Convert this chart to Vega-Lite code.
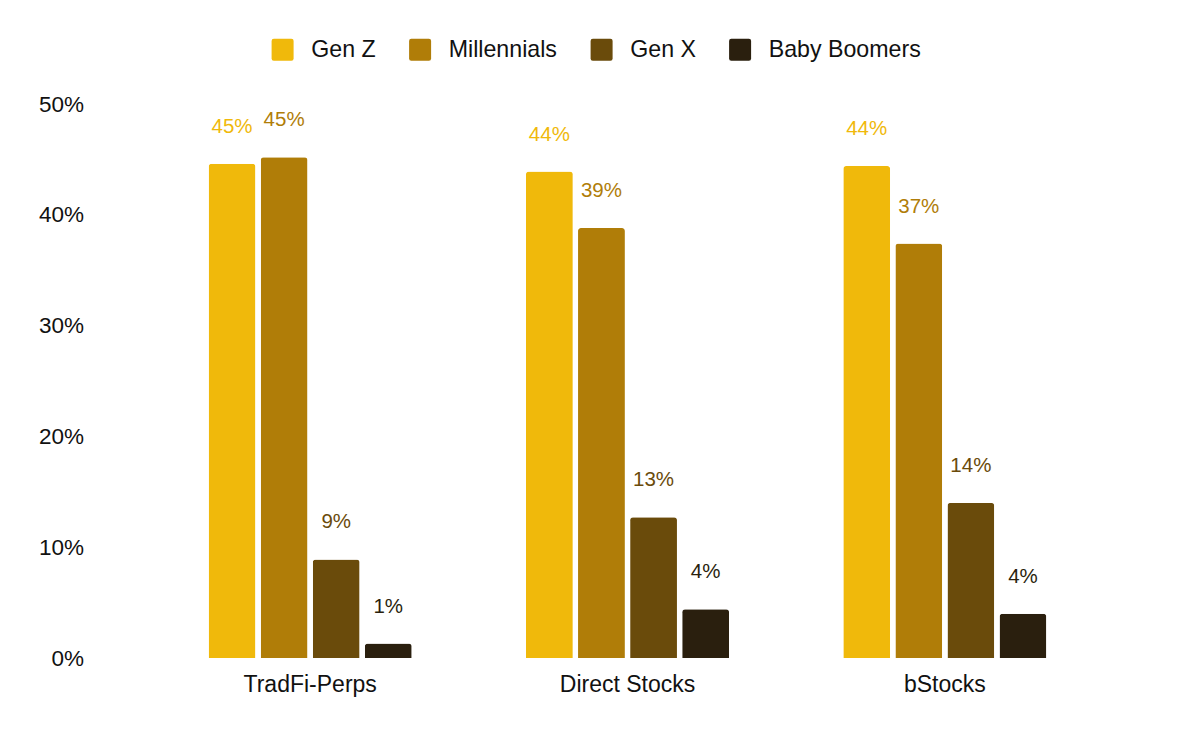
{
  "$schema": "https://vega.github.io/schema/vega-lite/v6.json",
  "width": 952,
  "height": 554,
  "autosize": {"type": "none"},
  "padding": {"left": 151.5, "top": 104, "right": 92.5, "bottom": 77},
  "background": "white",
  "config": {
    "font": "Liberation Sans",
    "view": {"stroke": null}
  },
  "data": {
    "values": [
      {"category": "TradFi-Perps", "generation": "Gen Z", "share": 0.446},
      {"category": "TradFi-Perps", "generation": "Millennials", "share": 0.452},
      {"category": "TradFi-Perps", "generation": "Gen X", "share": 0.089},
      {"category": "TradFi-Perps", "generation": "Baby Boomers", "share": 0.013},
      {"category": "Direct Stocks", "generation": "Gen Z", "share": 0.439},
      {"category": "Direct Stocks", "generation": "Millennials", "share": 0.388},
      {"category": "Direct Stocks", "generation": "Gen X", "share": 0.127},
      {"category": "Direct Stocks", "generation": "Baby Boomers", "share": 0.044},
      {"category": "bStocks", "generation": "Gen Z", "share": 0.444},
      {"category": "bStocks", "generation": "Millennials", "share": 0.374},
      {"category": "bStocks", "generation": "Gen X", "share": 0.140},
      {"category": "bStocks", "generation": "Baby Boomers", "share": 0.040}
    ]
  },
  "encoding": {
    "x": {
      "field": "category", "type": "nominal", "sort": null,
      "scale": {"paddingInner": 0.36, "paddingOuter": 0.18},
      "axis": {"title": null, "labelAngle": 0, "domain": false, "ticks": false, "labelFontSize": 23, "labelColor": "#111111", "labelPadding": 15}
    },
    "xOffset": {
      "field": "generation", "type": "nominal",
      "sort": ["Gen Z", "Millennials", "Gen X", "Baby Boomers"],
      "scale": {"paddingInner": 0.1, "paddingOuter": 0}
    },
    "y": {
      "field": "share", "type": "quantitative",
      "scale": {"domain": [0, 0.5], "nice": false},
      "axis": {"title": null, "format": ".0%", "values": [0, 0.1, 0.2, 0.3, 0.4, 0.5], "labelOverlap": false, "grid": false, "domain": false, "ticks": false, "labelFontSize": 22.5, "labelColor": "#111111", "labelPadding": 68}
    },
    "color": {
      "field": "generation", "type": "nominal",
      "sort": ["Gen Z", "Millennials", "Gen X", "Baby Boomers"],
      "scale": {"domain": ["Gen Z", "Millennials", "Gen X", "Baby Boomers"], "range": ["#F0B90B", "#B07D08", "#6A4B0B", "#2A1F0E"]},
      "legend": {
        "title": null, "orient": "none", "direction": "horizontal",
        "legendX": 119.5, "legendY": -66,
        "symbolType": "M-1,-0.8 Q-1,-1 -0.8,-1 L0.8,-1 Q1,-1 1,-0.8 L1,0.8 Q1,1 0.8,1 L-0.8,1 Q-1,1 -1,0.8 Z",
        "symbolSize": 484, "symbolStrokeWidth": 0, "symbolOpacity": 1,
        "labelFontSize": 23.2, "labelColor": "#111111", "labelOffset": 17,
        "columnPadding": 32.5, "padding": 0
      }
    }
  },
  "layer": [
    {"mark": {"type": "bar", "cornerRadiusTopLeft": 3, "cornerRadiusTopRight": 3}},
    {
      "mark": {"type": "text", "dy": -37, "fontSize": 20.5, "baseline": "middle"},
      "encoding": {"text": {"field": "share", "type": "quantitative", "format": ".0%"}}
    }
  ]
}
